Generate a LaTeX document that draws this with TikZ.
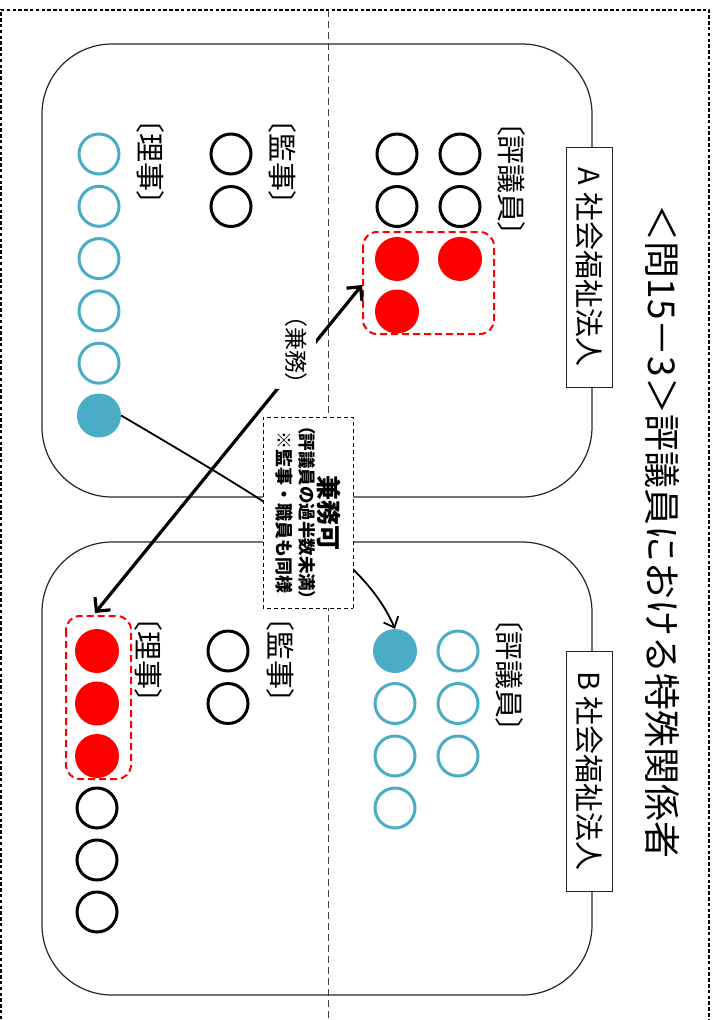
\documentclass[tikz,border=0pt]{standalone}
\usepackage{fontspec}
\setmainfont{Noto Sans CJK JP}
\newfontfamily\jpp{Noto Sans CJK JP}[RawFeature=+palt]
\usetikzlibrary{arrows.meta}
\definecolor{accblue}{HTML}{4BACC6}
\definecolor{pred}{HTML}{FF0000}
\begin{document}
\begin{tikzpicture}[x=1pt,y=-1pt,
  frameline/.style={line width=1.7pt,dash pattern=on 3.5pt off 2.3pt},
  midline/.style={line width=1pt,draw=black!75,dash pattern=on 7pt off 4pt},
  orgbox/.style={draw=black!85,line width=1.2pt,rounded corners=70pt,minimum width=550pt,minimum height=453pt,inner sep=0pt},
  namebox/.style={draw=black!85,fill=white,line width=1pt,rotate=-90,minimum width=240pt,minimum height=46pt,inner sep=0pt,font=\fontsize{29}{32}\selectfont},
  lbl/.style={rotate=-90,inner sep=0pt,font=\jpp\fontsize{29}{32}\selectfont},
  oc/.style={circle,draw=black,line width=3pt,minimum size=40pt,inner sep=0pt},
  ob/.style={circle,draw=accblue,line width=3pt,minimum size=40pt,inner sep=0pt},
  fb/.style={circle,fill=accblue,minimum size=44pt,inner sep=0pt},
  fr/.style={circle,fill=pred,minimum size=44pt,inner sep=0pt},
  redgrp/.style={draw=pred,line width=2pt,dash pattern=on 7pt off 4pt,rounded corners=14pt},
  thickarrow/.style={line width=3.2pt,{Straight Barb[length=10pt,width=20pt]}-{Straight Barb[length=10pt,width=20pt]}},
  thinarrow/.style={line width=1.8pt,-{Straight Barb[length=9pt,width=16pt]}},
  notebox/.style={draw=black,fill=white,line width=1pt,dash pattern=on 4pt off 3pt,rotate=-90,minimum width=191pt,minimum height=90pt,inner sep=0pt,align=center,font=\bfseries\fontsize{17.5}{23}\selectfont}
]
\useasboundingbox (0,0) rectangle (713,1020);
% outer frame
\draw[frameline] (1,1025) -- (1,10) -- (709,10) -- (709,1025);
% organisation boxes
\node[orgbox] (boxA) at (317,270.5) {};
\node[orgbox] (boxB) at (317,768.5) {};
% centre dashed line
\draw[midline] (328.5,10) -- (328.5,1020);
% name boxes
\node[namebox] (nA) at (589,267) {A 社会福祉法人};
\node[namebox] (nB) at (589,771) {B 社会福祉法人};
% title
\node[rotate=-90,inner sep=0pt,font=\fontsize{37}{40}\selectfont] (title) at (662,531.5) {＜問15－3＞評議員における特殊関係者};
% labels
\node[lbl] (lAg) at (512,179) {〔評議員〕};
\node[lbl] (lAk) at (283,162) {〔監事〕};
\node[lbl] (lAr) at (151,162) {〔理事〕};
\node[lbl] (lBg) at (510,675) {〔評議員〕};
\node[lbl] (lBk) at (281,660) {〔監事〕};
\node[lbl] (lBr) at (149,660) {〔理事〕};
% A: councillors
\node[oc] (aG1) at (460,154) {};
\node[oc] (aG2) at (460,206.5) {};
\node[fr] (aG3) at (460,259) {};
\node[oc] (aG4) at (397,154) {};
\node[oc] (aG5) at (397,206.5) {};
\node[fr] (aG6) at (397,259) {};
\node[fr] (aG7) at (397,311.5) {};
\draw[redgrp] (363,232) rectangle (494,334);
% A: auditors
\node[oc] (aK1) at (231,154) {};
\node[oc] (aK2) at (231,206.5) {};
% A: directors
\foreach \i in {0,...,4}{\node[ob] (aR\i) at (99,{154+52.3*\i}) {};}
\node[fb] (aR5) at (99,415.5) {};
% B: councillors
\node[fb] (bG1) at (395,651) {};
\node[ob] (bG2) at (395,703.5) {};
\node[ob] (bG3) at (395,756) {};
\node[ob] (bG4) at (395,808) {};
\node[ob] (bG5) at (458,651) {};
\node[ob] (bG6) at (458,703.5) {};
\node[ob] (bG7) at (458,756) {};
% B: auditors
\node[oc] (bK1) at (228,651) {};
\node[oc] (bK2) at (228,703.5) {};
% B: directors
\node[fr] (bR1) at (97,651) {};
\node[fr] (bR2) at (97,703.5) {};
\node[fr] (bR3) at (97,756) {};
\node[oc] (bR4) at (97,808) {};
\node[oc] (bR5) at (97,860) {};
\node[oc] (bR6) at (97,912) {};
\draw[redgrp] (66,616) rectangle (131,779);
% connectors
\coordinate (tA) at (362,285);
\coordinate (tB) at (95,613);
\draw[thickarrow] (tA) -- (tB);
\node[rotate=-90,fill=white,inner xsep=4pt,inner ysep=9pt,font=\jpp\fontsize{23}{26}\selectfont] (kenmu) at (296,350) {（兼務）};
\draw[thinarrow] (aR5.east) .. controls (290,515) and (365,560) .. (bG1.north);
% note box
\node[notebox] (note) at (308,512.5) {{\fontsize{25}{26}\selectfont 兼務可}\\[-4pt]
{\jpp （評議員の過半数未満）}\\
{\fontsize{18}{23}\selectfont ※監事・職員も同様}};
\end{tikzpicture}
\end{document}
